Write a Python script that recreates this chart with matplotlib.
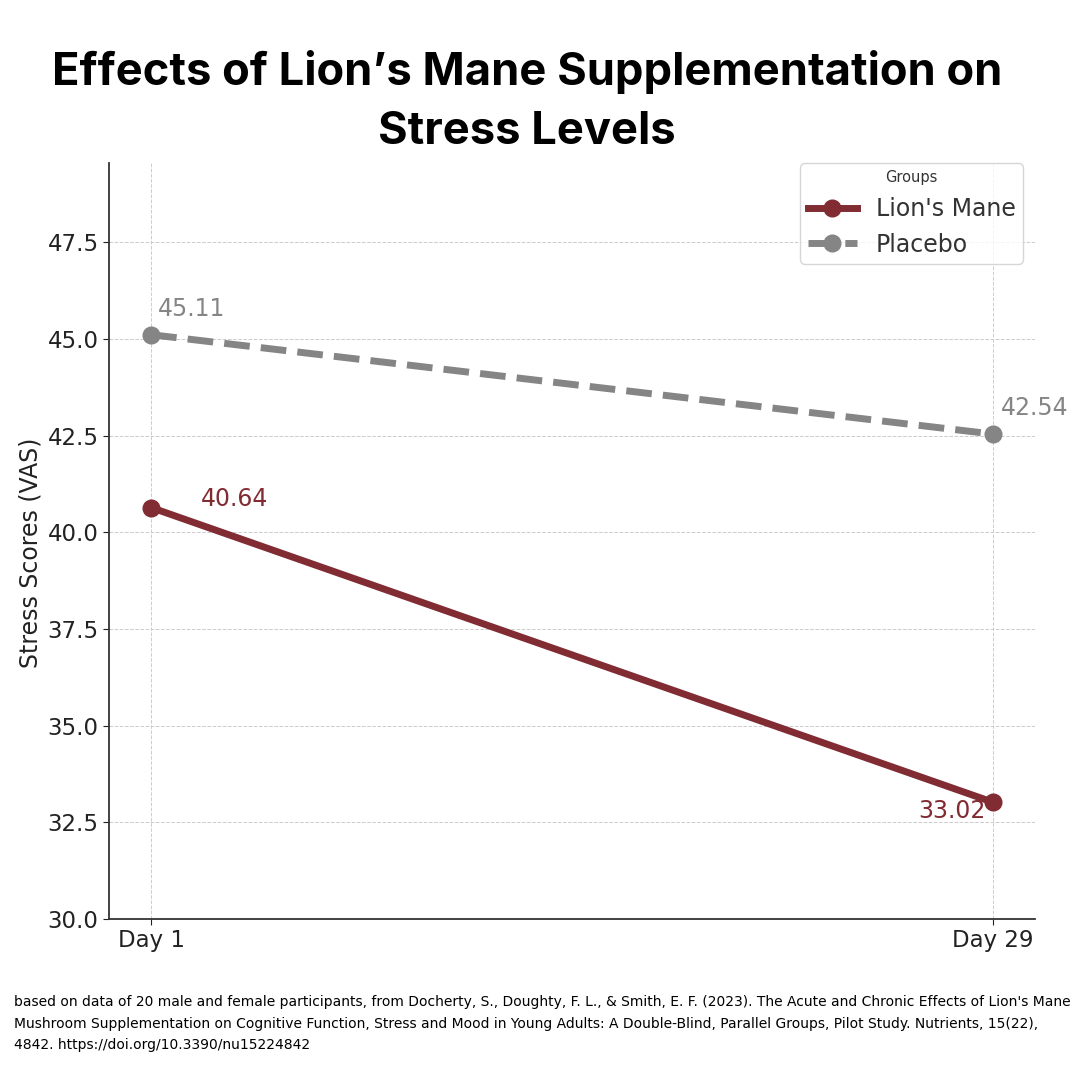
import matplotlib.pyplot as plt

plt.rcParams['font.family'] = ['DejaVu Sans']

days = ['Day 1', 'Day 29']
lions_mane = [40.64, 33.02]
placebo = [45.11, 42.54]

MAROON = '#812b32'
GREY = '#858585'


def main():
    fig = plt.figure(figsize=(10.8, 10.8), dpi=100)
    ax = fig.add_axes([109 / 1080, 1 - 919 / 1080, (1035 - 109) / 1080, (919 - 163) / 1080])

    x = list(range(len(days)))
    ax.plot(x, lions_mane, color=MAROON, lw=5, marker='o', ms=12, label="Lion's Mane", zorder=3)
    ax.plot(x, placebo, color=GREY, lw=5, ls='--', marker='o', ms=12, label='Placebo', zorder=3)

    # value labels
    ax.annotate(f'{placebo[0]:.2f}', (x[0], placebo[0]), xytext=(5, 10), textcoords='offset points',
                color=GREY, fontsize=17, ha='left', va='bottom')
    ax.annotate(f'{placebo[1]:.2f}', (x[1], placebo[1]), xytext=(6, 10), textcoords='offset points',
                color=GREY, fontsize=17, ha='left', va='bottom')
    ax.annotate(f'{lions_mane[0]:.2f}', (x[0], lions_mane[0]), xytext=(36, 6.5), textcoords='offset points',
                color=MAROON, fontsize=17, ha='left', va='center')
    ax.annotate(f'{lions_mane[1]:.2f}', (x[1], lions_mane[1]), xytext=(-5, -6), textcoords='offset points',
                color=MAROON, fontsize=17, ha='right', va='center')

    ax.set_xlim(-0.05, 1.05)
    ax.set_ylim(30, 49.55)
    ax.set_xticks(x)
    ax.set_xticklabels(days)
    ax.set_yticks([30, 32.5, 35, 37.5, 40, 42.5, 45, 47.5])
    ax.tick_params(labelsize=16.5, colors='#222222', length=4)
    ax.set_ylabel('Stress Scores (VAS)', fontsize=17, color='#222222')
    ax.yaxis.set_label_coords(-0.072, 0.485)

    ax.grid(True, ls='--', lw=0.7, color='#cccccc')
    ax.set_axisbelow(True)
    for s in ['top', 'right']:
        ax.spines[s].set_visible(False)
    for s in ['left', 'bottom']:
        ax.spines[s].set_color('#333333')
        ax.spines[s].set_linewidth(1.3)

    leg = ax.legend(title='Groups', loc='upper right', bbox_to_anchor=(1 - 12 / 926, 1.0),
                    borderaxespad=0, borderpad=0.3, fontsize=17, title_fontsize=10.5,
                    handlelength=2.1, handletextpad=0.8, frameon=True)
    leg.get_title().set_color('#333333')
    for t in leg.get_texts():
        t.set_color('#333333')

    fig.text(0.488, 1 - 72 / 1080, 'Effects of Lion\u2019s Mane Supplementation on', ha='center', va='center',
             fontsize=32.6, fontweight='bold', family='Inter')
    fig.text(0.488, 1 - 132 / 1080, 'Stress Levels', ha='center', va='center',
             fontsize=32.6, fontweight='bold', family='Inter')

    note = ("based on data of 20 male and female participants, from Docherty, S., Doughty, F. L., & Smith, E. F. (2023). "
            "The Acute and Chronic Effects of Lion's Mane\n"
            "Mushroom Supplementation on Cognitive Function, Stress and Mood in Young Adults: "
            "A Double-Blind, Parallel Groups, Pilot Study. Nutrients, 15(22),\n"
            "4842. https://doi.org/10.3390/nu15224842")
    fig.text(14 / 1080, 1 - 995 / 1080, note, ha='left', va='top', fontsize=10,
             family='Liberation Sans Narrow', linespacing=1.7)

    fig.savefig('out.png', dpi=100)


if __name__ == "__main__":
    main()
